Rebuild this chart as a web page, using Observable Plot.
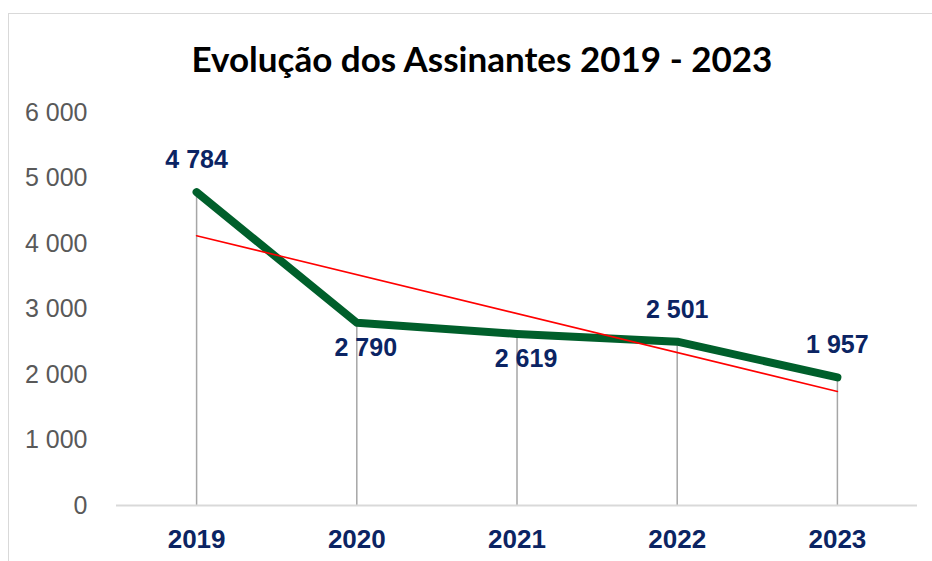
<!DOCTYPE html>
<html>
<head>
<meta charset="utf-8">
<script src="https://cdn.jsdelivr.net/npm/d3@7"></script>
<script src="https://cdn.jsdelivr.net/npm/@observablehq/plot@0.6"></script>
<style>
  html, body { margin: 0; padding: 0; background: #fff; }
  #wrap { position: relative; width: 932px; height: 561px; overflow: hidden; }
  #border { position: absolute; left: 8px; top: 13px; width: 1000px; height: 700px;
            border: 1.5px solid #d9d9d9; box-sizing: border-box; }
  #title { position: absolute; left: 0; width: 964px; top: 38px; text-align: center;
           font-family: Lato, "Open Sans", sans-serif; font-weight: 700; font-size: 35px;
           color: #000; line-height: 40px; }
  #chart { position: absolute; left: 0; top: 0; }
</style>
</head>
<body>
<div id="wrap">
  <div id="border"></div>
  <div id="title">Evolução dos Assinantes 2019 - 2023</div>
  <div id="chart"></div>
</div>
<script>
const years = [2019, 2020, 2021, 2022, 2023];
const subscribers = [4784, 2790, 2619, 2501, 1957];
const yTicks = [0, 1000, 2000, 3000, 4000, 5000, 6000];

const data = years.map((year, i) => ({year, value: subscribers[i]}));
const fmt = v => d3.format(",")(v).replace(/,/g, " ");
// label placement: above for first and last two points, below otherwise
const above = data.filter((d, i) => i === 0 || i >= 3);
const below = data.filter((d, i) => i === 1 || i === 2);

const navy = "#0b2463";
const font = "'Liberation Sans', Arial, sans-serif";

const chart = Plot.plot({
  width: 932,
  height: 561,
  marginLeft: 116,
  marginRight: 15,
  marginTop: 112,
  marginBottom: 56,
  x: {type: "linear", domain: [2018.5, 2023.5]},
  y: {domain: [0, 6000]},
  marks: [
    Plot.axisY({ticks: yTicks, tickFormat: fmt, tickSize: 0, tickPadding: 29,
      fontSize: 25, fill: "#595959", fontFamily: font, label: null}),
    Plot.axisX({ticks: years, tickFormat: d => String(d), tickSize: 0, tickPadding: 24,
      fontSize: 26, fontWeight: "bold", fill: navy, fontFamily: font, label: null}),
    Plot.ruleX(data, {x: "year", y1: 0, y2: "value", stroke: "#a6a6a6", strokeWidth: 1.5}),
    Plot.ruleY([0], {stroke: "#d9d9d9", strokeWidth: 2}),
    Plot.line(data, {x: "year", y: "value", stroke: "#005f2b", strokeWidth: 8,
      strokeLinecap: "round", strokeLinejoin: "round"}),
    Plot.linearRegressionY(data, {x: "year", y: "value", stroke: "#ff0000", strokeWidth: 1.6, ci: 0}),
    Plot.text(above, {x: "year", y: "value", text: d => fmt(d.value), dy: -32,
      fontSize: 25, fontWeight: "bold", fill: navy, fontFamily: font}),
    Plot.text(below, {x: "year", y: "value", text: d => fmt(d.value), dy: 25, dx: 9,
      fontSize: 25, fontWeight: "bold", fill: navy, fontFamily: font})
  ]
});
chart.style.background = "transparent";
document.getElementById("chart").appendChild(chart);
</script>
</body>
</html>
